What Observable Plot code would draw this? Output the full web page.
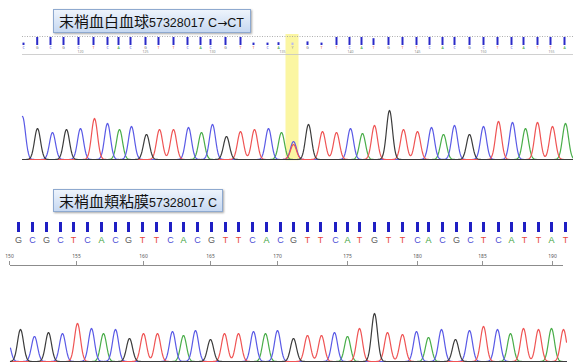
<!DOCTYPE html>
<html><head><meta charset="utf-8">
<script src="https://cdn.jsdelivr.net/npm/d3@7"></script>
<script src="https://cdn.jsdelivr.net/npm/@observablehq/plot@0.6"></script>
<style>
body{margin:0;background:#fff}
#root{position:relative;width:573px;height:362px;overflow:hidden;background:#fff}
#root svg{position:absolute;left:0}
.tag{position:absolute;box-sizing:border-box;border:1px solid #8ea9cf;background:linear-gradient(#eef4fc,#c6d8f1);box-shadow:1px 1px 2px rgba(0,0,0,.35);padding-left:5px;white-space:nowrap;color:#111;z-index:2}
.cjk{font-family:"Noto Sans CJK JP";font-size:15px}
.lat{font-family:"Liberation Sans";font-size:12.5px}
.arr{font-family:"DejaVu Sans";font-size:12px}
</style></head>
<body><div id="root"></div>
<script>
// ---------- data ----------
const topLabel = ["末梢血白血球", "57328017 C→CT"];
const bottomLabel = ["末梢血頬粘膜", "57328017 C"];

// top panel: base calls (positions in trace units), call quality 0..1
const topCallPos = [23,36.7,50,63,78,93,107,118,130,145,158,173,187,200,210,225,240,253,267,278,292,307,321,336,349,361,373,388,402,416,429,442,454,469,483,497,511,523,537,550,564];
const topCalls   = "CGCGCTCACGTTCACGTTCAYGTTCATGTTCACGCTCATTA";
const topQuality = [0.3,1,1,1,1,1,1,1,1,1,1,1,1,1,0.75,1,1,0.3,0.3,0.35,0.3,0.45,0.3,1,1,1,0.85,1,1,1,1,1,1,1,1,1,1,1,1,1,1];
// top panel: chromatogram peaks
const topPeakPos    = [22,37,52,66,80,94,107,119,131,146,159,173,188,201,212,226,240,254,268,281,293,308,322,336,350,362,374,389,403,417,431,443,454,469,483,498,512,525,537,552,565];
const topPeakBase   = "CGCGCTCACGTTCACGTTCACGTTCATGTTCACGCTCATTA";
const topPeakHeight = [43,31,27,30,31,41,36,30,33,25,30,30,32,27,35,23,28,30,31,27,18,35,28,27,31,26,34,49,30,28,32,25,34,25,33,38,37,31,37,33,36];
// secondary (mutant) peak at the heterozygous site
const topMinorPos = [293];
const topMinorBase = "T";
const topMinorHeight = [15];
const variantPos = [292];
const topTickPos = [80,145,212,282,350,417,483,551];
const topTickLabels = ["120","125","130","135","140","145","150","155"];

// bottom panel
const bottomCallPos = [18,32,46,60,73,87,101,115,128,142,156,170,183,197,211,225,238,252,266,280,293,307,320,335,347,359,374,388,402,417,428,442,456,470,483,498,511,524,538,551,565];
const bottomCalls   = "GCGCTCACGTTCACGTTCACGTTCATGTTCACGCTCATTAT";
const bottomPeakPos    = [7,20,34,48,62,77,91,103,115,129,143,157,172,183,195,210,224,238,253,265,277,293,307,321,334,347,359,374,387,402,416,428,441,455,469,483,497,510,523,538,551,563];
const bottomPeakBase   = "CGCGCTCACGTTCACGTTCACGTTCATGTTCACGCTCATTAT";
const bottomPeakHeight = [22,32,25,29,28,38,33,28,32,23,28,28,30,26,31,22,28,28,30,28,31,23,26,26,29,25,33,48,29,27,30,24,32,22,31,35,32,28,33,32,33,32];
const bottomTickPos = [9,76,143,210,277,347,417,482,552];
const bottomTickLabels = ["150","155","160","165","170","175","180","185","190"];

// ---------- styles ----------
const traceColor = {A:"#49ad49", C:"#5a5ae6", G:"#3c3c3c", T:"#ef5454"};
const letterColor = {A:"#3da33d", C:"#4d4dd6", G:"#5a5a5a", T:"#e8473d", Y:"#999"};
const SIGMA = 3.0;

function peaksOf(pos, bases, heights) {
  return pos.map((p, i) => ({x: p, base: bases[i], h: heights[i]}));
}
function traceOf(peaks, x0, x1) {
  const out = [];
  for (const ch of ["A","C","T","G"]) {
    const ps = peaks.filter(p => p.base === ch);
    for (let x = x0; x <= x1 + 1e-9; x += 0.5) {
      let v = 0;
      for (const p of ps) v += p.h * Math.exp(-((x - p.x) ** 2) / (2 * SIGMA * SIGMA));
      out.push({ch, x, v});
    }
  }
  return out;
}
const calls = (pos, s, q) => pos.map((p, i) => ({pos: p, base: s[i], q: q ? q[i] : 1}));
const ticks = (pos, lab) => pos.map((p, i) => ({pos: p, label: lab[i]}));

const root = document.getElementById("root");
const X = {domain: [0, 573], range: [0, 573], axis: null};
function place(svg, top) { svg.style.top = top + "px"; root.appendChild(svg); }
function tag(parts, left, top, w, h) {
  const d = document.createElement("div");
  d.className = "tag";
  Object.assign(d.style, {left: left + "px", top: top + "px", width: w + "px", height: h + "px", lineHeight: (h - 2) + "px"});
  const lat = parts[1].replace("→", '<span class="arr">→</span>');
  d.innerHTML = `<span class="cjk">${parts[0]}</span><span class="lat">${lat}</span>`;
  root.appendChild(d);
}

// ---------- top panel ----------
const topStart = 22;
const topCallData = calls(topCallPos, topCalls, topQuality);
place(Plot.plot({
  width: 573, height: 30, margin: 0, x: X,
  y: {domain: [0, 30], range: [0, 30], axis: null},
  color: {type: "identity"},
  marks: [
    Plot.rect(variantPos, {x1: d => d - 6.5, x2: d => d + 6.5, y1: 4, y2: 30, fill: "#fbf6a2"}),
    Plot.ruleY([6], {x1: topStart, x2: 573, stroke: "#9a9a9a", strokeDasharray: "1,1.5", strokeWidth: 0.8}),
    Plot.ruleX(topCallData, {x: "pos", y1: d => 15 - 8 * d.q, y2: 15, stroke: d => d.base === "Y" ? "#b9b9ee" : "#2a2ac8", strokeWidth: 2}),
    Plot.text(topCallData, {x: "pos", y: 17.5, text: "base", fill: d => letterColor[d.base], fontSize: 3.5}),
    Plot.text(ticks(topTickPos, topTickLabels), {x: "pos", y: 21, text: "label", fill: "#888", fontSize: 3.5}),
    Plot.ruleY([24], {x1: topStart, x2: 573, stroke: "#c4c4c4", strokeWidth: 0.8})
  ]
}), 30);

const topPeaks = peaksOf(topPeakPos, topPeakBase, topPeakHeight)
  .concat(peaksOf(topMinorPos, topMinorBase, topMinorHeight));
place(Plot.plot({
  width: 573, height: 101, margin: 0, x: X,
  y: {domain: [0, 100], range: [99, -1], axis: null},
  color: {type: "identity"},
  marks: [
    Plot.rect(variantPos, {x1: d => d - 6.5, x2: d => d + 6.5, y1: -1.2, y2: 100, fill: "#fbf6a2"}),
    Plot.line(traceOf(topPeaks, topStart, 573), {x: "x", y: "v", z: "ch", stroke: d => traceColor[d.ch], strokeWidth: 1.2})
  ]
}), 60);

// ---------- bottom panel ----------
const bottomCallData = calls(bottomCallPos, bottomCalls);
place(Plot.plot({
  width: 573, height: 53, margin: 0, x: X,
  y: {domain: [0, 53], range: [0, 53], axis: null},
  color: {type: "identity"},
  marks: [
    Plot.ruleX(bottomCallData, {x: "pos", y1: 7, y2: 17, stroke: "#1f1fc4", strokeWidth: 3}),
    Plot.text(bottomCallData, {x: "pos", y: 25, text: "base", fill: d => letterColor[d.base], fontSize: 9, fontFamily: "Liberation Sans"}),
    Plot.text(ticks(bottomTickPos, bottomTickLabels), {x: "pos", y: 41, text: "label", fill: "#555", fontSize: 5}),
    Plot.ruleX(bottomTickPos, {x: d => d, y1: 46, y2: 50, stroke: "#777", strokeWidth: 0.8}),
    Plot.ruleY([50], {x1: 10, x2: 563, stroke: "#8c8c8c", strokeWidth: 1})
  ]
}), 215);

const bottomPeaks = peaksOf(bottomPeakPos, bottomPeakBase, bottomPeakHeight);
place(Plot.plot({
  width: 573, height: 94, margin: 0, x: X,
  y: {domain: [0, 100], range: [93, -7], axis: null},
  color: {type: "identity"},
  marks: [
    Plot.line(traceOf(bottomPeaks, 10, 566), {x: "x", y: "v", z: "ch", stroke: d => traceColor[d.ch], strokeWidth: 1.2})
  ]
}), 268);

tag(topLabel, 53, 9, 198, 24);
tag(bottomLabel, 53, 189, 170, 23);
</script>
</body></html>
